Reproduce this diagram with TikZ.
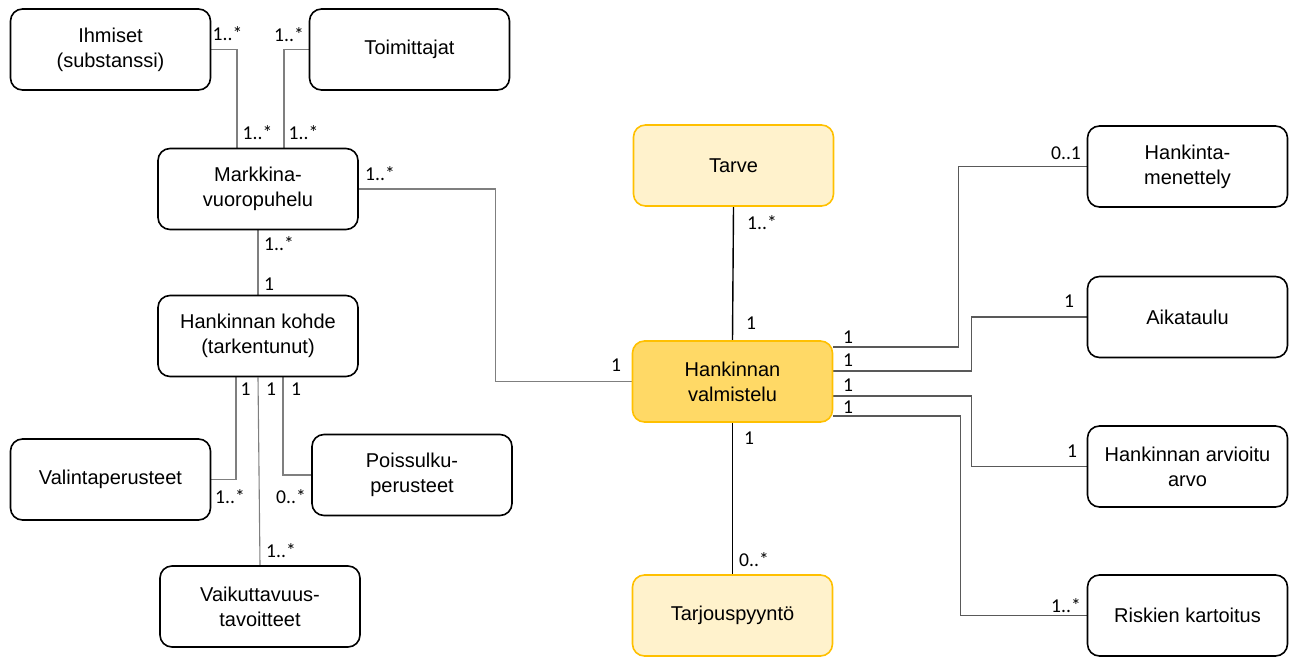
\documentclass[tikz,border=0pt]{standalone}
\usepackage{fontspec}
\setmainfont{Liberation Sans}
\newfontfamily\labelfont{Carlito}
\usetikzlibrary{calc,backgrounds}

\definecolor{goldline}{HTML}{FFC000}
\definecolor{palegold}{HTML}{FFF2CC}
\definecolor{softgold}{HTML}{FFD966}
\definecolor{linegray}{HTML}{7F7F7F}
\definecolor{linedark}{HTML}{595959}

\tikzset{
  entity/.style={draw=black, line width=0.8pt, rounded corners=6pt,
    minimum width=100pt, minimum height=40.5pt, align=center,
    font=\fontsize{10}{12.5}\selectfont, inner sep=2pt},
  goldentity/.style={entity, draw=goldline, fill=palegold},
  keyentity/.style={entity, draw=goldline, fill=softgold},
  conn/.style={draw=linegray, line width=0.55pt},
  connr/.style={draw=linedark, line width=0.55pt},
  connk/.style={draw=black, line width=0.7pt},
  mult/.style={font=\labelfont\fontsize{9.8}{11}\selectfont, inner sep=0pt}
}

\begin{document}
\begin{tikzpicture}[x=0.5pt,y=-0.5pt]
\useasboundingbox (0,0) rectangle (1290,657);

% entities of the market dialogue side
\node[entity] (ihm) at (110.5,49.5) {Ihmiset\\(substanssi)};
\node[entity] (toi) at (409.5,49.5) {Toimittajat};
\node[entity] (mkt) at (258,189) {Markkina-\\vuoropuhelu};
\node[entity] (kohde) at (258,336) {Hankinnan kohde\\(tarkentunut)};
\node[entity] (valinta) at (110.5,479.5) {Valintaperusteet};
\node[entity] (poiss) at (412,475) {Poissulku-\\perusteet};
\node[entity] (vaik) at (260,606.5) {Vaikuttavuus-\\tavoitteet};

% central preparation chain
\node[goldentity] (tarve) at (733.5,165.5) {Tarve};
\node[keyentity] (hv) at (732.5,381.5) {Hankinnan\\valmistelu};
\node[goldentity] (tarj) at (732.5,615.5) {Tarjouspyyntö};

% attributes of the preparation
\node[entity] (menet) at (1187.5,166.5) {Hankinta-\\menettely};
\node[entity] (aika) at (1187.5,317) {Aikataulu};
\node[entity] (arvo) at (1187.5,466.5) {Hankinnan arvioitu\\arvo};
\node[entity] (risk) at (1187.5,615.5) {Riskien kartoitus};

\begin{scope}[on background layer]
  \draw[conn] (ihm.east) -| ($(mkt.north)+(-21,0)$);
  \draw[conn] (toi.west) -| ($(mkt.north)+(26,0)$);
  \draw[conn] (mkt.east) -- ++(137,0) |- (hv.west);
  \draw[conn] (mkt.south) -- (kohde.north);
  \draw[conn] ($(kohde.south)+(-22,0)$) |- (valinta.east);
  \draw[conn] (kohde.south) -- (vaik.north);
  \draw[conn] ($(kohde.south)+(25,0)$) |- (poiss.west);

  \draw[connk] (tarve.south) -- (hv.north);
  \draw[connk] (hv.south) -- (tarj.north);

  \draw[connr] ($(hv.east)+(0,-34.5)$) -- ++(125,0) |- (menet.west);
  \draw[connr] ($(hv.east)+(0,-10.5)$) -- ++(138,0) |- (aika.west);
  \draw[connr] ($(hv.east)+(0,14.5)$) -- ++(138,0) |- (arvo.west);
  \draw[connr] ($(hv.east)+(0,34.5)$) -- ++(127,0) |- (risk.west);
\end{scope}

% multiplicities
\node[mult] (m1) at (227.5,34) {1..*};
\node[mult] (m2) at (289,35) {1..*};
\node[mult] (m3) at (257.5,133) {1..*};
\node[mult] (m4) at (303.5,133) {1..*};
\node[mult] (m5) at (380,174) {1..*};
\node[mult] (m6) at (279,244) {1..*};
\node[mult] (m7) at (269,284) {1};
\node[mult] (m8) at (245.5,389) {1};
\node[mult] (m9) at (271,389) {1};
\node[mult] (m10) at (296,389) {1};
\node[mult] (m11) at (230,497) {1..*};
\node[mult] (m12) at (291,497) {0..*};
\node[mult] (m13) at (281,551) {1..*};
\node[mult] (m14) at (616,365) {1};
\node[mult] (m15) at (762,223) {1..*};
\node[mult] (m16) at (751,323) {1};
\node[mult] (m17) at (749,438) {1};
\node[mult] (m18) at (754,560) {0..*};
\node[mult] (m19) at (848,337) {1};
\node[mult] (m20) at (848,360) {1};
\node[mult] (m21) at (848,385) {1};
\node[mult] (m22) at (848,407) {1};
\node[mult] (m23) at (1066,153) {0..1};
\node[mult] (m24) at (1069,301) {1};
\node[mult] (m25) at (1072,451) {1};
\node[mult] (m26) at (1066,606) {1..*};
\end{tikzpicture}
\end{document}
